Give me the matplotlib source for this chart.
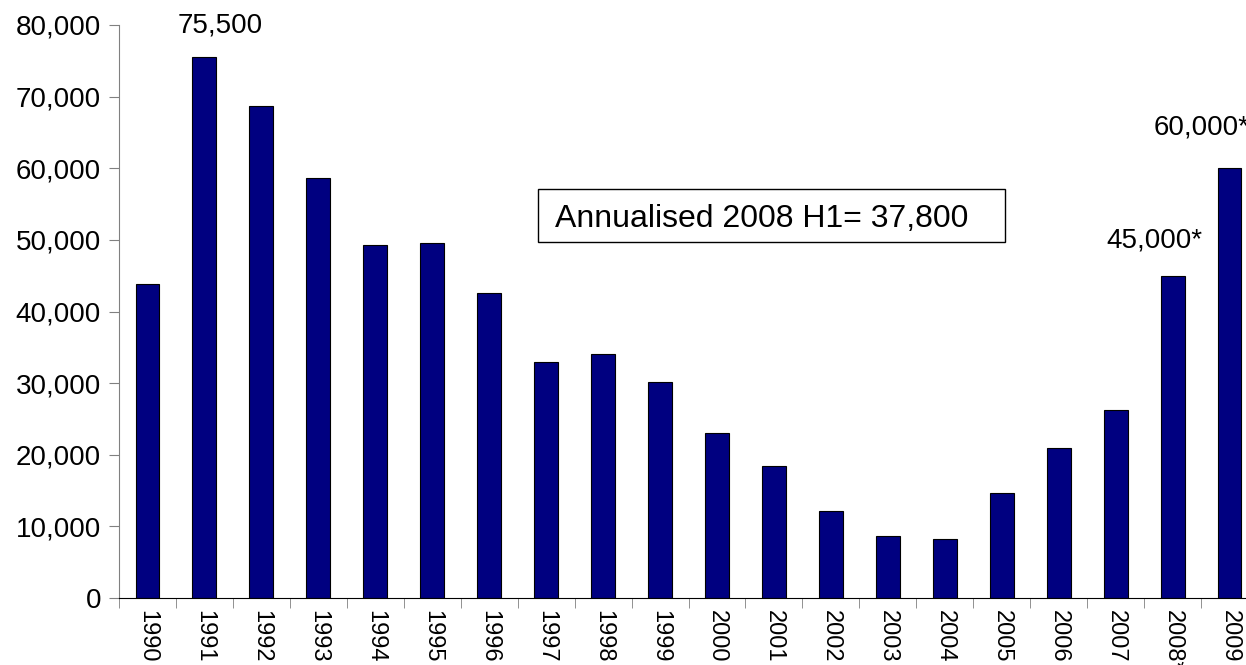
import matplotlib
matplotlib.use("Agg")
import matplotlib.pyplot as plt
from matplotlib.patches import Rectangle
from matplotlib.ticker import FuncFormatter

years = ['1990', '1991', '1992', '1993', '1994', '1995', '1996', '1997', '1998', '1999',
         '2000', '2001', '2002', '2003', '2004', '2005', '2006', '2007', '2008*', '2009']
values = [43900, 75500, 68700, 58700, 49300, 49500, 42600, 32900, 34000, 30100,
          23000, 18400, 12100, 8600, 8300, 14700, 21000, 26300, 45000, 60000]
labelled = {1: '75,500', 18: '45,000*', 19: '60,000*'}
# (x shift, y gap) in points for each value label
label_offset = {1: (11, 17.5), 18: (-13, 20), 19: (-20, 24)}
box_text = 'Annualised 2008 H1= 37,800'

plt.rcParams['font.family'] = ['Liberation Sans', 'DejaVu Sans']

fig = plt.figure(figsize=(12.46, 6.65), dpi=100)
ax = fig.add_axes([119 / 1246, 67 / 665, 1139 / 1246, 573 / 665])

x = list(range(len(years)))
ax.bar(x, values, width=0.42, color='#000080', edgecolor='black', linewidth=0.8, zorder=2)

ax.set_xlim(-0.5, len(years) - 0.5)
ax.set_ylim(0, 80000)
ax.set_yticks(range(0, 80001, 10000))
ax.yaxis.set_major_formatter(FuncFormatter(lambda v, p: f'{int(v):,}'))
ax.tick_params(axis='y', labelsize=20, length=7, color='#808080', direction='out', pad=6)

# category labels in the middle, ticks at category boundaries
ax.set_xticks(x)
ax.set_xticklabels(years, rotation=270, fontsize=17)
ax.tick_params(axis='x', which='major', length=0, pad=9)
ax.set_xticks([i - 0.5 for i in range(len(years) + 1)], minor=True)
ax.tick_params(axis='x', which='minor', length=7, color='#808080')

for s in ['top', 'right']:
    ax.spines[s].set_visible(False)
ax.spines['left'].set_color('#808080')
ax.spines['bottom'].set_color('black')

for i, txt in labelled.items():
    dx, dy = label_offset[i]
    ax.annotate(txt, (x[i], values[i]), xytext=(dx, dy),
                textcoords='offset points', ha='center', va='baseline', fontsize=20)

ax.add_patch(Rectangle((0.368, 0.621), 0.41, 0.093, transform=ax.transAxes,
                       facecolor='white', edgecolor='black', linewidth=1, zorder=3))
ax.text(0.3828, 0.6475, box_text, transform=ax.transAxes, ha='left', va='baseline',
        fontsize=23, zorder=4)

fig.savefig('out.png', dpi=100)
